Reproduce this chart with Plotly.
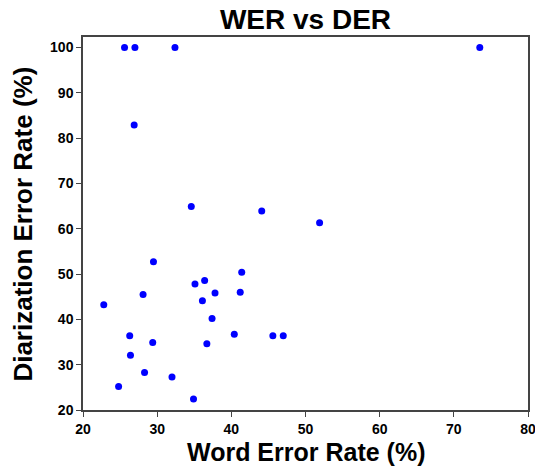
import plotly.graph_objects as go

wer = [22.8, 24.8, 26.3, 26.4, 28.1, 28.3, 29.4, 29.5, 32.0, 34.6, 34.9, 35.1, 36.1, 36.4,
       36.7, 37.4, 37.8, 40.4, 41.2, 41.4, 44.1, 45.6, 47.0, 51.9, 25.6, 27.0, 32.4, 26.9, 73.5]
der = [43.2, 25.2, 36.4, 32.1, 45.5, 28.3, 34.9, 52.7, 27.3, 64.9, 22.4, 47.8, 44.1, 48.6,
       34.6, 40.2, 45.8, 36.7, 46.0, 50.4, 63.9, 36.4, 36.4, 61.3, 100, 100, 100, 82.9, 100]

x_ticks = [20, 30, 40, 50, 60, 70, 80]
y_ticks = [20, 30, 40, 50, 60, 70, 80, 90, 100]

# page body has an 8px default margin; figure sized to end at the window edge
W, H = 535, 458
L, R, T, B = 75, 15, 29, 56
plot_w = W - L - R
plot_h = H - T - B

fig = go.Figure(go.Scatter(
    x=wer, y=der, mode="markers",
    marker=dict(color="blue", size=7, line=dict(width=0)),
))

font_family = "Liberation Sans"
fig.update_layout(
    width=W, height=H,
    margin=dict(l=L, r=R, t=T, b=B, autoexpand=False),
    paper_bgcolor="white", plot_bgcolor="white",
    showlegend=False,
    title=dict(text="<b>WER vs DER</b>", x=(L + plot_w / 2) / W, xanchor="center",
               y=1 - 11 / H, yanchor="middle",
               font=dict(family=font_family, size=28, color="black")),
    font=dict(family=font_family, color="black"),
    annotations=[
        dict(text="<b>Word Error Rate (%)</b>", xref="paper", yref="paper",
             x=0.5, y=-42 / plot_h, xanchor="center", yanchor="middle", showarrow=False,
             font=dict(size=25, family=font_family, color="black")),
        dict(text="<b>Diarization Error Rate (%)</b>", xref="paper", yref="paper",
             x=-60 / plot_w, y=0.497, xanchor="center", yanchor="middle", showarrow=False,
             textangle=-90, font=dict(size=26, family=font_family, color="black")),
    ],
)
fig.update_xaxes(
    range=[20, 80], tickvals=x_ticks, ticktext=[f"<b>{v}</b>" for v in x_ticks],
    showgrid=False, zeroline=False, showline=True, linecolor="#444", linewidth=1.5,
    mirror=True, ticks="outside", ticklen=5, tickcolor="#444", automargin=False,
    tickfont=dict(size=14, family=font_family, color="black"),
)
fig.update_yaxes(
    range=[20, 102.3], tickvals=y_ticks, ticktext=[f"<b>{v}</b>" for v in y_ticks],
    showgrid=False, zeroline=False, showline=True, linecolor="#444", linewidth=1.5,
    mirror=True, ticks="outside", ticklen=5, tickcolor="#444", automargin=False,
    tickfont=dict(size=14, family=font_family, color="black"),
)

fig.write_html("out.html")
